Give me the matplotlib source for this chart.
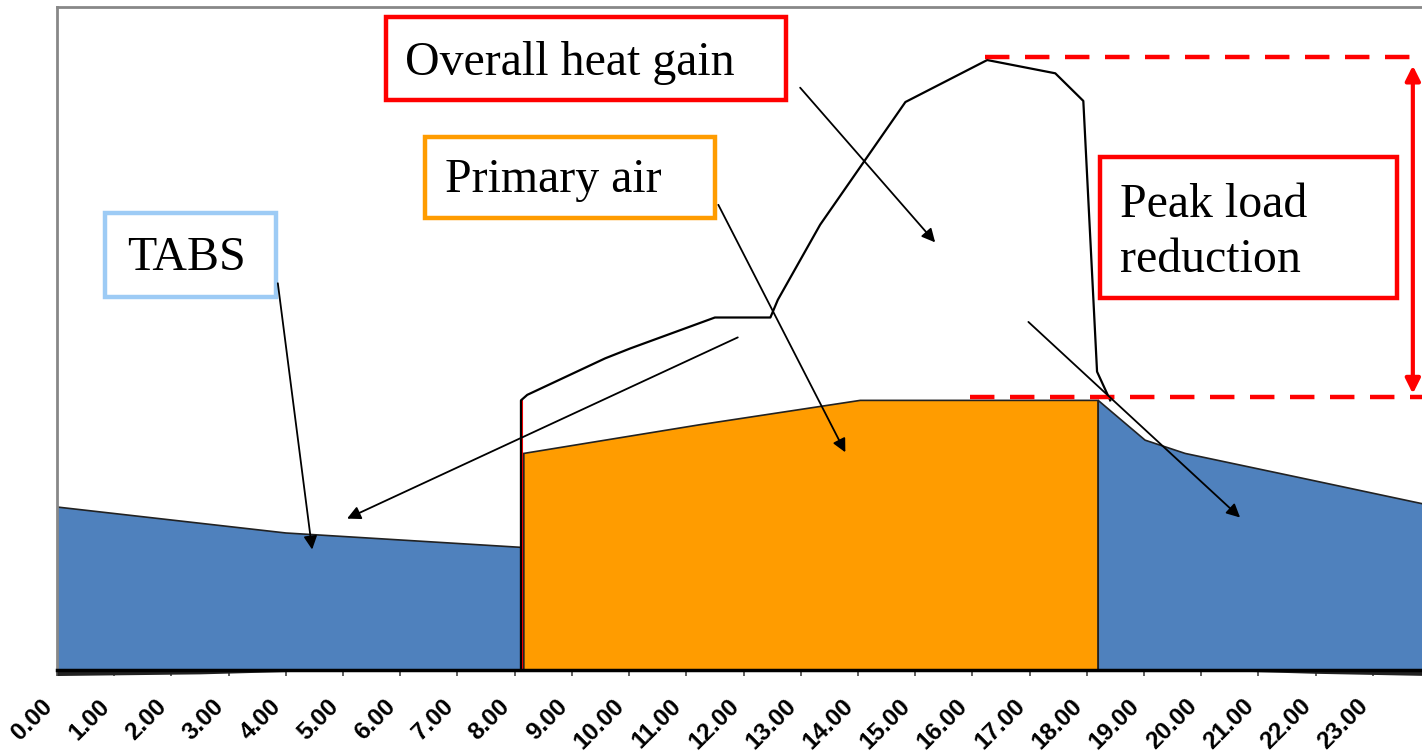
import matplotlib.pyplot as plt
import numpy as np
from matplotlib.patches import Rectangle

# hours of day and loads (arbitrary units)
hour_ticks = np.arange(0, 24)
hour_labels = ["%d.00" % h for h in hour_ticks]

tabs_night_h = [0.0, 4.0, 8.11, 8.16]
tabs_night = [14.75, 12.4, 11.1, 0.0]

primary_h = [8.16, 8.16, 11.24, 14.04, 18.2, 18.2]
primary = [0.0, 19.6, 22.2, 24.4, 24.4, 0.0]

tabs_eve_h = [18.2, 18.2, 19.02, 19.72, 21.73, 24.0, 24.0]
tabs_eve = [0.0, 24.4, 20.8, 19.6, 17.4, 14.9, 0.0]

gain_h = [8.11, 8.11, 8.22, 9.58, 10.02, 11.5, 12.47, 12.6, 13.34, 14.83,
          16.26, 17.45, 17.94, 18.18, 18.41]
gain = [0.0, 24.4, 24.9, 28.2, 29.1, 31.9, 31.9, 33.5, 40.3, 51.4,
        55.2, 54.0, 51.5, 27.0, 24.4]

other_h = [0.0, 2.5, 5.0, 20.0, 22.0, 24.0]
other = [-0.5, -0.35, 0.0, 0.0, -0.3, -0.5]

peak_load = 55.5
reduced_peak = 24.7

blue = "#4F81BD"
orange = "#FF9C00"
red = "#FF0000"


def main():
    fig = plt.figure(figsize=(14.22, 7.55), dpi=100)
    ax = fig.add_axes([57 / 1422, 85 / 755, 1373 / 1422, 663 / 755])

    ax.fill(tabs_night_h + [0.0], tabs_night + [0.0], color=blue, ec="#222222", lw=1.2, zorder=2)
    ax.fill(primary_h, primary, color=orange, ec="#222222", lw=1.2, zorder=2)
    ax.fill(tabs_eve_h, tabs_eve, color=blue, ec="#222222", lw=1.2, zorder=2)
    ax.fill_between(other_h, other, 0, color="#222222", lw=0, zorder=2, clip_on=False)
    ax.plot([8.13, 8.13], [0, 24.4], color=red, lw=1.5, zorder=2)
    ax.plot(gain_h, gain, color="black", lw=1.6, zorder=3)

    # peak load reduction markers
    ax.plot([16.22, 24.2], [peak_load, peak_load], color=red, lw=3.2, dashes=(5.5, 3.5), zorder=4)
    ax.plot([15.96, 24.2], [reduced_peak, reduced_peak], color=red, lw=3.2, dashes=(5.5, 3.5), zorder=4)
    ax.annotate("", xy=(23.7, peak_load - 0.8), xytext=(23.7, reduced_peak + 0.3),
                arrowprops=dict(arrowstyle="<|-|>", color=red, lw=3, mutation_scale=22,
                                shrinkA=0, shrinkB=0), zorder=4)

    # label boxes
    serif = "Liberation Serif"
    boxes = [
        ((5.75, 51.6), 6.99, 7.5, red),
        ((6.43, 40.9), 5.07, 7.3, orange),
        ((0.84, 33.8), 2.99, 7.6, "#9DCBF5"),
        ((18.23, 33.7), 5.20, 12.7, red),
    ]
    for (x0, y0), w, h, c in boxes:
        ax.add_patch(Rectangle((x0, y0), w, h, fill=True, fc="white", ec=c, lw=3.2, zorder=5))
    fs = 34.5
    ax.text(6.08, 54.95, "Overall heat gain", family=serif, fontsize=fs, va="center", zorder=6)
    ax.text(6.78, 44.3, "Primary air", family=serif, fontsize=fs, va="center", zorder=6)
    ax.text(1.22, 37.3, "TABS", family=serif, fontsize=fs, va="center", zorder=6)
    ax.text(18.58, 42.1, "Peak load", family=serif, fontsize=fs, va="center", zorder=6)
    ax.text(18.58, 37.1, "reduction", family=serif, fontsize=fs, va="center", zorder=6)

    arrows = [
        ((12.99, 52.7), (15.35, 38.7)),
        ((11.56, 42.1), (13.78, 19.7)),
        ((3.86, 35.0), (4.46, 10.9)),
        ((11.9, 30.1), (5.07, 13.7)),
        ((16.98, 31.5), (20.68, 13.8)),
    ]
    for start, end in arrows:
        ax.annotate("", xy=end, xytext=start,
                    arrowprops=dict(arrowstyle="-|>", color="black", lw=1.3,
                                    mutation_scale=20, shrinkA=0, shrinkB=0), zorder=6)

    ax.set_xlim(0, 24)
    ax.set_ylim(0, 60)
    ax.set_yticks([])
    ax.set_xticks(hour_ticks)
    ax.set_xticklabels(hour_labels, rotation=45, ha="right", va="bottom", rotation_mode="anchor",
                       fontsize=17.5, fontweight="bold", family="Liberation Sans")
    ax.tick_params(axis="x", length=4, width=1.2, color="#444444", pad=25.5)
    for s in ["left", "top", "right"]:
        ax.spines[s].set_color("#888888")
        ax.spines[s].set_linewidth(2)
    ax.spines["bottom"].set_color("black")
    ax.spines["bottom"].set_linewidth(2.5)

    fig.savefig("out.png", dpi=100)
    plt.close(fig)


if __name__ == '__main__':
    main()
